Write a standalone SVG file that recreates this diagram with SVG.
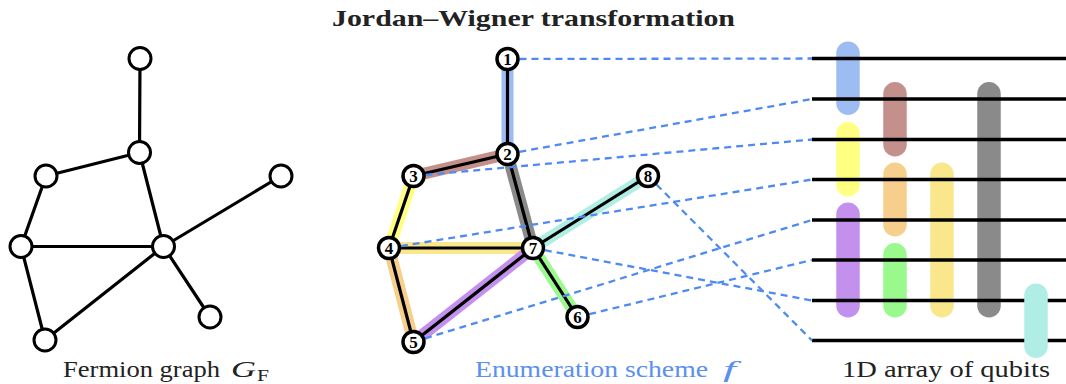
<svg xmlns="http://www.w3.org/2000/svg" width="1066" height="384" viewBox="0 0 1066 384">
<style>
.edge{stroke:#000;stroke-width:3.2;fill:none;stroke-linecap:round}
.hl{stroke-width:12;fill:none;stroke-linecap:butt}
.nodeL{fill:#fff;stroke:#000;stroke-width:3}
.nodeM{fill:#fff;stroke:#000;stroke-width:3.5}
.num{font-family:"Liberation Serif","DejaVu Serif",serif;font-weight:bold;font-size:17px;text-anchor:middle;fill:#000}
.dash{stroke:#4f8af2;stroke-width:2.3;stroke-dasharray:7 5;fill:none}
.qline{stroke:#000;stroke-width:3.5}
.lbl{font-family:"Liberation Serif","DejaVu Serif",serif;font-size:24px;fill:#222}
.bar{stroke:none}
</style>
<rect width="1066" height="384" fill="#fff"/>
<text x="533.5" y="26" text-anchor="middle" font-family="'Liberation Serif', 'DejaVu Serif', serif" font-weight="bold" font-size="23" fill="#222" textLength="403" lengthAdjust="spacingAndGlyphs">Jordan–Wigner transformation</text>

<!-- Left fermion graph -->
<g id="left-connectors">
<line class="edge" x1="140" y1="58.5" x2="139.5" y2="152.5"/>
<line class="edge" x1="139.5" y1="152.5" x2="46" y2="176"/>
<line class="edge" x1="139.5" y1="152.5" x2="163.5" y2="246.5"/>
<line class="edge" x1="46" y1="176" x2="21" y2="246.5"/>
<line class="edge" x1="21" y1="246.5" x2="163.5" y2="246.5"/>
<line class="edge" x1="21" y1="246.5" x2="45" y2="340"/>
<line class="edge" x1="45" y1="340" x2="163.5" y2="246.5"/>
<line class="edge" x1="163.5" y1="246.5" x2="281" y2="176"/>
<line class="edge" x1="163.5" y1="246.5" x2="210" y2="317"/>
</g>
<g id="L1"><circle class="nodeL" cx="140" cy="58.5" r="11"/></g>
<g id="L2"><circle class="nodeL" cx="139.5" cy="152.5" r="11"/></g>
<g id="L3"><circle class="nodeL" cx="46" cy="176" r="11"/></g>
<g id="L4"><circle class="nodeL" cx="21" cy="246.5" r="11"/></g>
<g id="L7"><circle class="nodeL" cx="163.5" cy="246.5" r="11"/></g>
<g id="L8"><circle class="nodeL" cx="281" cy="176" r="11"/></g>
<g id="L6"><circle class="nodeL" cx="210" cy="317" r="11"/></g>
<g id="L5"><circle class="nodeL" cx="45" cy="340" r="11"/></g>
<text class="lbl" x="63" y="377" textLength="157" lengthAdjust="spacingAndGlyphs">Fermion graph</text>
<text class="lbl" x="231" y="377" font-style="italic" textLength="25" lengthAdjust="spacingAndGlyphs">G</text>
<text class="lbl" x="257" y="381" style="font-size:16px" textLength="12" lengthAdjust="spacingAndGlyphs">F</text>

<!-- Right qubit array: bars -->
<g id="bars">
<rect class="bar" x="836.25" y="41.5" width="23.5" height="73.5" rx="11.75" fill="#9dbcf2"/>
<rect class="bar" x="836.25" y="122" width="23.5" height="74.5" rx="11.75" fill="#ffff82"/>
<rect class="bar" x="836.25" y="202.5" width="23.5" height="115" rx="11.75" fill="#c490ee"/>
<rect class="bar" x="883.25" y="82" width="23.5" height="74.5" rx="11.75" fill="#c4908c"/>
<rect class="bar" x="883.25" y="162.5" width="23.5" height="74" rx="11.75" fill="#f5cf8b"/>
<rect class="bar" x="883.25" y="243" width="23.5" height="74.5" rx="11.75" fill="#9af98c"/>
<rect class="bar" x="930.25" y="162.5" width="23.5" height="155" rx="11.75" fill="#fbe78b"/>
<rect class="bar" x="977.25" y="82" width="23.5" height="235.5" rx="11.75" fill="#8a8a8a"/>
</g>
<g id="qubits">
<line class="qline" x1="812" y1="58.5" x2="1066" y2="58.5"/>
<line class="qline" x1="812" y1="99" x2="1066" y2="99"/>
<line class="qline" x1="812" y1="139.5" x2="1066" y2="139.5"/>
<line class="qline" x1="812" y1="179.5" x2="1066" y2="179.5"/>
<line class="qline" x1="812" y1="220" x2="1066" y2="220"/>
<line class="qline" x1="812" y1="260" x2="1066" y2="260"/>
<line class="qline" x1="812" y1="300.5" x2="1066" y2="300.5"/>
<line class="qline" x1="812" y1="340.5" x2="1066" y2="340.5"/>
</g>
<rect class="bar" x="1024.25" y="283.5" width="23.5" height="74.5" rx="11.75" fill="#b0ede5"/>
<text class="lbl" x="842" y="377" textLength="208" lengthAdjust="spacingAndGlyphs">1D array of qubits</text>

<!-- Middle enumerated graph -->
<g id="highlights">
<line class="hl" stroke="#9dbcf2" x1="507.5" y1="59" x2="507.5" y2="154"/>
<line class="hl" stroke="#c4908c" x1="507.5" y1="154" x2="413.5" y2="176"/>
<line class="hl" stroke="#ffff82" x1="413.5" y1="176" x2="389" y2="248"/>
<line class="hl" stroke="#f5cf8b" x1="389" y1="248" x2="413.5" y2="342"/>
<line class="hl" stroke="#fbe78b" x1="389" y1="248" x2="533" y2="248"/>
<line class="hl" stroke="#c490ee" x1="413.5" y1="342" x2="533" y2="248"/>
<line class="hl" stroke="#8a8a8a" x1="507.5" y1="154" x2="533" y2="248"/>
<line class="hl" stroke="#9af98c" x1="533" y1="248" x2="577.5" y2="317"/>
<line class="hl" stroke="#b0ede5" x1="533" y1="248" x2="648" y2="176"/>
</g>
<g id="connectors">
<line class="edge" x1="507.5" y1="59" x2="507.5" y2="154"/>
<line class="edge" x1="507.5" y1="154" x2="413.5" y2="176"/>
<line class="edge" x1="413.5" y1="176" x2="389" y2="248"/>
<line class="edge" x1="389" y1="248" x2="413.5" y2="342"/>
<line class="edge" x1="389" y1="248" x2="533" y2="248"/>
<line class="edge" x1="413.5" y1="342" x2="533" y2="248"/>
<line class="edge" x1="507.5" y1="154" x2="533" y2="248"/>
<line class="edge" x1="533" y1="248" x2="577.5" y2="317"/>
<line class="edge" x1="533" y1="248" x2="648" y2="176"/>
<line class="dash" x1="507.5" y1="59" x2="812" y2="58.5"/>
<line class="dash" x1="507.5" y1="154" x2="812" y2="99"/>
<line class="dash" x1="413.5" y1="176" x2="812" y2="139.5"/>
<line class="dash" x1="389" y1="248" x2="812" y2="179.5"/>
<line class="dash" x1="413.5" y1="342" x2="812" y2="220"/>
<line class="dash" x1="577.5" y1="317" x2="812" y2="260"/>
<line class="dash" x1="533" y1="248" x2="812" y2="300.5"/>
<line class="dash" x1="648" y1="176" x2="812" y2="340.5"/>
</g>
<g id="n1"><circle class="nodeM" cx="507.5" cy="59" r="10.5"/><text class="num" x="507.5" y="65">1</text></g>
<g id="n2"><circle class="nodeM" cx="507.5" cy="154" r="10.5"/><text class="num" x="507.5" y="160">2</text></g>
<g id="n3"><circle class="nodeM" cx="413.5" cy="176" r="10.5"/><text class="num" x="413.5" y="182">3</text></g>
<g id="n4"><circle class="nodeM" cx="389" cy="248" r="10.5"/><text class="num" x="389" y="254">4</text></g>
<g id="n5"><circle class="nodeM" cx="413.5" cy="342" r="10.5"/><text class="num" x="413.5" y="348">5</text></g>
<g id="n6"><circle class="nodeM" cx="577.5" cy="317" r="10.5"/><text class="num" x="577.5" y="323">6</text></g>
<g id="n7"><circle class="nodeM" cx="533" cy="248" r="10.5"/><text class="num" x="533" y="254">7</text></g>
<g id="n8"><circle class="nodeM" cx="648" cy="176" r="10.5"/><text class="num" x="648" y="182">8</text></g>
<text class="lbl" x="475" y="377" style="fill:#5b8ff0" textLength="233" lengthAdjust="spacingAndGlyphs">Enumeration scheme</text>
<text class="lbl" x="723" y="377" font-style="italic" style="fill:#5b8ff0" textLength="13" lengthAdjust="spacingAndGlyphs">f</text>
</svg>
